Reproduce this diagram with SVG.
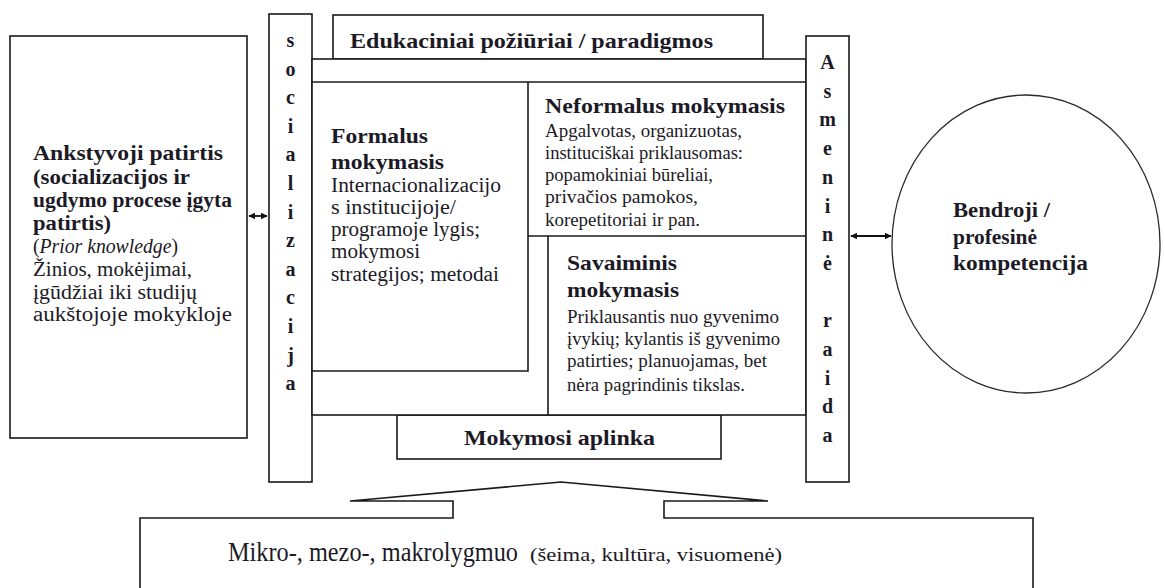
<svg xmlns="http://www.w3.org/2000/svg" width="1165" height="588" viewBox="0 0 1165 588">
<defs>
<marker id="ah" viewBox="0 0 10 10" refX="9" refY="5" markerWidth="7" markerHeight="7" orient="auto-start-reverse" markerUnits="userSpaceOnUse"><path d="M0,0 L10,5 L0,10 z" fill="#111"/></marker>
<style>
.box{fill:#fff;stroke:#1a1a1a;stroke-width:1.6}
.ln{fill:none;stroke:#1a1a1a;stroke-width:1.6}
text{font-family:"Liberation Serif","Times New Roman",serif;fill:#1c1a26}
.t{font-size:22px;font-weight:bold}
.h{font-size:20px;font-weight:bold}
.r{font-size:19px}
.v{font-size:20px;font-weight:bold;text-anchor:middle}
.it{font-style:italic}
</style>
</defs>
<rect width="1165" height="588" fill="#fff"/>

<g id="mikro">
<path class="ln" d="M140,590 L140,518 L453,518 L453,501 L350,501 L561,482 L768,501 L664,501 L664,518 L1033,518 L1033,590"/>
<text x="228" y="561" font-size="27" textLength="290" lengthAdjust="spacingAndGlyphs">Mikro-, mezo-, makrolygmuo</text>
<text x="530" y="561" font-size="19" textLength="252" lengthAdjust="spacingAndGlyphs">(šeima, kultūra, visuomenė)</text>
</g>

<g id="ankstyvoji">
<rect class="box" x="10" y="36" width="237" height="402"/>
<text x="33" y="160" class="t" textLength="190" lengthAdjust="spacingAndGlyphs">Ankstyvoji patirtis</text>
<text x="33" y="184" class="h" textLength="157" lengthAdjust="spacingAndGlyphs">(socializacijos ir</text>
<text x="33" y="207" class="h" textLength="199" lengthAdjust="spacingAndGlyphs">ugdymo procese įgyta</text>
<text x="33" y="230" class="h" textLength="78" lengthAdjust="spacingAndGlyphs">patirtis)</text>
<text x="33" y="253" font-size="20" textLength="145" lengthAdjust="spacingAndGlyphs">(<tspan class="it">Prior knowledge</tspan>)</text>
<text x="33" y="276" font-size="20" textLength="159" lengthAdjust="spacingAndGlyphs">Žinios, mokėjimai,</text>
<text x="33" y="299" font-size="20" textLength="164" lengthAdjust="spacingAndGlyphs">įgūdžiai iki studijų</text>
<text x="33" y="321" font-size="20" textLength="199" lengthAdjust="spacingAndGlyphs">aukštojoje mokykloje</text>
</g>

<g id="socializacija">
<rect class="box" x="269" y="14" width="43" height="468"/>
<text class="v" x="290.5" y="47">s</text>
<text class="v" x="290.5" y="75.6">o</text>
<text class="v" x="290.5" y="104.2">c</text>
<text class="v" x="290.5" y="132.8">i</text>
<text class="v" x="290.5" y="161.4">a</text>
<text class="v" x="290.5" y="190">l</text>
<text class="v" x="290.5" y="218.6">i</text>
<text class="v" x="290.5" y="247.2">z</text>
<text class="v" x="290.5" y="275.8">a</text>
<text class="v" x="290.5" y="304.4">c</text>
<text class="v" x="290.5" y="333">i</text>
<text class="v" x="290.5" y="361.6">j</text>
<text class="v" x="290.5" y="390.2">a</text>
</g>

<g id="edukaciniai">
<rect class="box" x="333" y="15" width="430" height="44"/>
<text x="350" y="48" class="t" textLength="363" lengthAdjust="spacingAndGlyphs">Edukaciniai požiūriai / paradigmos</text>
</g>

<g id="mokymosi-aplinka">
<rect class="box" x="397" y="415" width="324" height="44"/>
<text x="464" y="445" class="t" textLength="191" lengthAdjust="spacingAndGlyphs">Mokymosi aplinka</text>
</g>

<g id="paradigmos-frame">
<rect class="box" x="312" y="59" width="494" height="356"/>
<line class="ln" x1="312" y1="82" x2="806" y2="82"/>
</g>

<g id="formalus">
<path class="ln" d="M312,371 L528,371 L528,82"/>
<text x="331" y="143" class="t" textLength="97" lengthAdjust="spacingAndGlyphs">Formalus</text>
<text x="331" y="169" class="t" textLength="113" lengthAdjust="spacingAndGlyphs">mokymasis</text>
<text x="331" y="192" font-size="20" textLength="170" lengthAdjust="spacingAndGlyphs">Internacionalizacijo</text>
<text x="331" y="214" font-size="20" textLength="125" lengthAdjust="spacingAndGlyphs">s institucijoje/</text>
<text x="331" y="236" font-size="20" textLength="149" lengthAdjust="spacingAndGlyphs">programoje lygis;</text>
<text x="331" y="258" font-size="20" textLength="89" lengthAdjust="spacingAndGlyphs">mokymosi</text>
<text x="331" y="281" font-size="20" textLength="168" lengthAdjust="spacingAndGlyphs">strategijos; metodai</text>
</g>

<g id="neformalus">
<line class="ln" x1="528" y1="236" x2="806" y2="236"/>
<text x="545" y="113" class="t" textLength="240" lengthAdjust="spacingAndGlyphs">Neformalus mokymasis</text>
<text x="545" y="137" class="r" textLength="197" lengthAdjust="spacingAndGlyphs">Apgalvotas, organizuotas,</text>
<text x="545" y="159" class="r" textLength="198" lengthAdjust="spacingAndGlyphs">instituciškai priklausomas:</text>
<text x="545" y="181" class="r" textLength="168" lengthAdjust="spacingAndGlyphs">popamokiniai būreliai,</text>
<text x="545" y="203" class="r" textLength="153" lengthAdjust="spacingAndGlyphs">privačios pamokos,</text>
<text x="545" y="226" class="r" textLength="155" lengthAdjust="spacingAndGlyphs">korepetitoriai ir pan.</text>
</g>

<g id="savaiminis">
<line class="ln" x1="548" y1="236" x2="548" y2="415"/>
<text x="567" y="270" class="t" textLength="110" lengthAdjust="spacingAndGlyphs">Savaiminis</text>
<text x="567" y="297" class="t" textLength="112" lengthAdjust="spacingAndGlyphs">mokymasis</text>
<text x="567" y="323" class="r" textLength="212" lengthAdjust="spacingAndGlyphs">Priklausantis nuo gyvenimo</text>
<text x="567" y="345" class="r" textLength="213" lengthAdjust="spacingAndGlyphs">įvykių; kylantis iš gyvenimo</text>
<text x="567" y="367" class="r" textLength="200" lengthAdjust="spacingAndGlyphs">patirties; planuojamas, bet</text>
<text x="567" y="391" class="r" textLength="178" lengthAdjust="spacingAndGlyphs">nėra pagrindinis tikslas.</text>
</g>

<g id="asmenine-raida">
<rect class="box" x="806" y="36" width="43" height="446"/>
<text class="v" x="827.5" y="69">A</text>
<text class="v" x="827.5" y="97.7">s</text>
<text class="v" x="827.5" y="126.4">m</text>
<text class="v" x="827.5" y="155.1">e</text>
<text class="v" x="827.5" y="183.8">n</text>
<text class="v" x="827.5" y="212.5">i</text>
<text class="v" x="827.5" y="241.2">n</text>
<text class="v" x="827.5" y="269.9">ė</text>
<text class="v" x="827.5" y="327.3">r</text>
<text class="v" x="827.5" y="356">a</text>
<text class="v" x="827.5" y="384.7">i</text>
<text class="v" x="827.5" y="413.4">d</text>
<text class="v" x="827.5" y="442.1">a</text>
</g>

<g id="kompetencija">
<ellipse cx="1026" cy="244" rx="134" ry="149" fill="#fff" stroke="#2a2a2a" stroke-width="1.3"/>
<text x="953" y="217" class="t" textLength="97" lengthAdjust="spacingAndGlyphs">Bendroji /</text>
<text x="953" y="244" class="t" textLength="84" lengthAdjust="spacingAndGlyphs">profesinė</text>
<text x="953" y="270" class="t" textLength="135" lengthAdjust="spacingAndGlyphs">kompetencija</text>
</g>

<g id="connectors">
<line x1="249" y1="216" x2="267" y2="216" stroke="#111" stroke-width="1.8" marker-start="url(#ah)" marker-end="url(#ah)"/>
<line x1="851" y1="236" x2="891" y2="236" stroke="#111" stroke-width="1.8" marker-start="url(#ah)" marker-end="url(#ah)"/>
</g>
</svg>
